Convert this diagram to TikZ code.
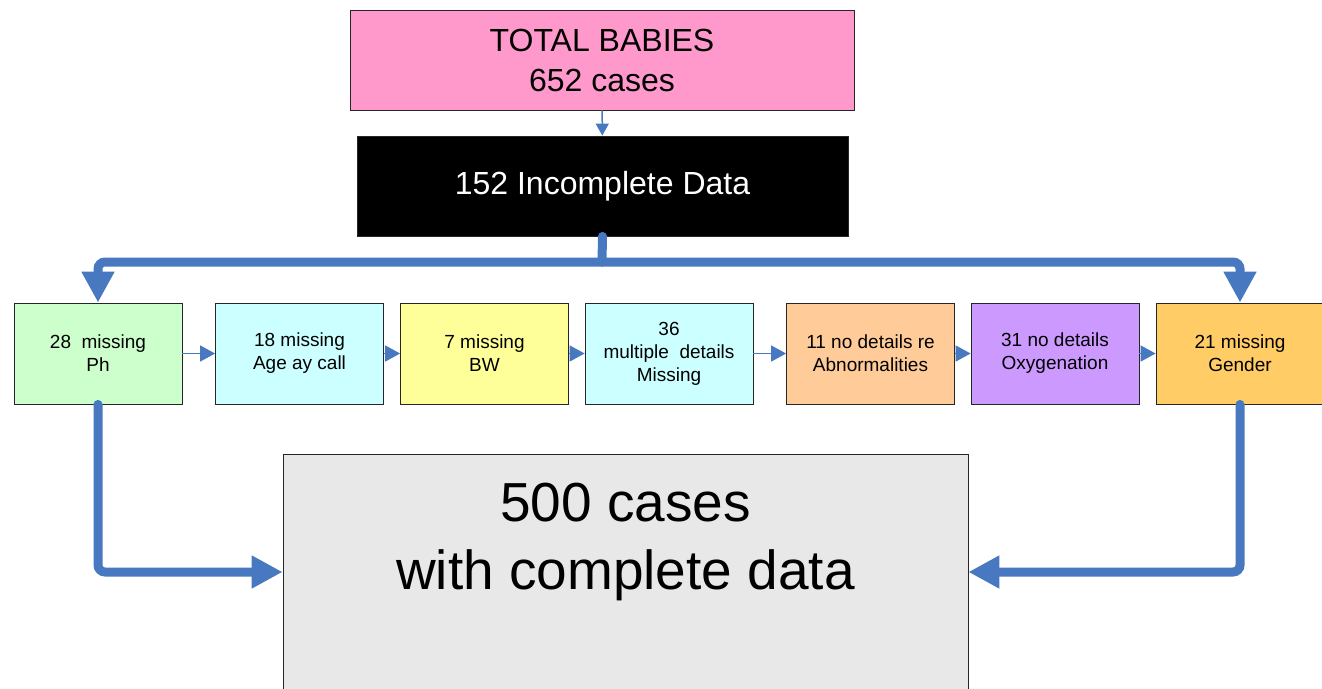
\documentclass[tikz,border=0pt]{standalone}
\usepackage{fontspec}
\setmainfont{Liberation Sans}
\usetikzlibrary{arrows.meta}

\definecolor{flowblue}{HTML}{4878C0}
\definecolor{boxpink}{HTML}{FF99CC}
\definecolor{boxgreen}{HTML}{CCFFCC}
\definecolor{boxcyan}{HTML}{CCFFFF}
\definecolor{boxyellow}{HTML}{FFFF99}
\definecolor{boxorange}{HTML}{FFCC99}
\definecolor{boxpurple}{HTML}{CC99FF}
\definecolor{boxgold}{HTML}{FFCC66}
\definecolor{boxgray}{HTML}{E8E8E8}

\begin{document}
\begin{tikzpicture}[x=1pt, y=-1pt,
    box/.style={draw=black!85, line width=0.8pt, minimum width=168pt, minimum height=101pt,
                inner sep=0pt, align=center, font=\fontsize{19}{23}\selectfont},
    link/.style={flowblue, line width=1.5pt, -{Triangle[length=15pt,width=16pt]}},
    trunk/.style={flowblue, line width=9pt, rounded corners=7pt, line cap=round,
                  -{Triangle[length=31pt,width=31pt]}}]

    \useasboundingbox (0,0) rectangle (1322,688);

    % top of the funnel
    \node (total) [box, fill=boxpink, minimum width=504pt, minimum height=100pt,
                   font=\fontsize{32}{40}\selectfont] at (602,60) {TOTAL BABIES\\652 cases};
    \node (gap) [box, fill=black, text=white, minimum width=491pt, minimum height=100pt,
                 font=\fontsize{32}{40}\selectfont] at (602.5,186) {152 Incomplete Data};

    % what is missing
    \node (ph)     [box, fill=boxgreen]  at (98,353.5)    {28~ missing\\Ph};
    \node (age)    [box, fill=boxcyan]   at (299.5,353.5) {18 missing\\Age ay call};
    \node (bw)     [box, fill=boxyellow] at (484.5,353.5) {7 missing\\BW};
    \node (multi)  [box, fill=boxcyan]   at (669,353.5)   {36\\multiple~ details\\Missing};
    \node (abnorm) [box, fill=boxorange] at (870.5,353.5) {11 no details re\\Abnormalities};
    \node (oxy)    [box, fill=boxpurple] at (1055,353.5)  {31 no details\\Oxygenation};
    \node (gender) [box, fill=boxgold]   at (1240,353.5)  {21 missing\\Gender};

    % what is left
    \node (done) [box, fill=boxgray, minimum width=685pt, minimum height=236pt,
                  font=\fontsize{55}{68}\selectfont, text depth=72pt]
                  at (625.5,572) {500 cases\\with complete data};

    \draw[flowblue, line width=1.5pt, -{Triangle[length=12pt,width=13pt]}] (total) -- (gap);

    \draw[link] (ph) -- (age);
    \draw[link] (age) -- (bw);
    \draw[link] (bw) -- (multi);
    \draw[link] (multi) -- (abnorm);
    \draw[link] (abnorm) -- (oxy);
    \draw[link] (oxy) -- (gender);

    \coordinate (split) at (602,262);
    \draw[trunk, -] (gap.south) -- (split);
    \draw[trunk] (split) -| (ph.north);
    \draw[trunk] (split) -| (gender.north);

    \draw[trunk] (ph.south) |- (done.west);
    \draw[trunk] (gender.south) |- (done.east);
\end{tikzpicture}
\end{document}
